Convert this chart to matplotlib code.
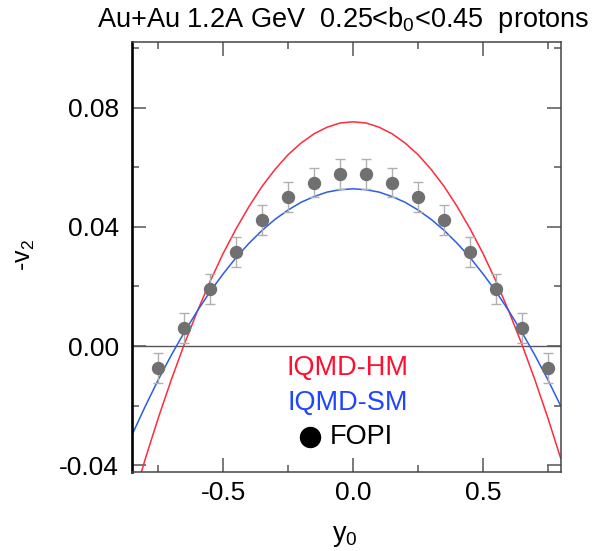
import matplotlib
matplotlib.use("Agg")
import matplotlib.pyplot as plt
from matplotlib.ticker import MultipleLocator, FormatStrFormatter

plt.rcParams['font.family'] = ['Liberation Sans', 'DejaVu Sans']
plt.rcParams['mathtext.fontset'] = 'custom'
plt.rcParams['mathtext.rm'] = 'Liberation Sans'
plt.rcParams['mathtext.it'] = 'Liberation Sans:italic'

# FOPI data points
fopi_y0 = [-0.75, -0.65, -0.55, -0.45, -0.35, -0.25, -0.15, -0.05,
           0.05, 0.15, 0.25, 0.35, 0.45, 0.55, 0.65, 0.75]
fopi_v2 = [-0.0075, 0.0060, 0.0192, 0.0315, 0.0424, 0.0500, 0.0549, 0.0577,
           0.0577, 0.0549, 0.0500, 0.0424, 0.0315, 0.0192, 0.0060, -0.0075]
fopi_err = [0.005, 0.005, 0.005, 0.005, 0.005, 0.005, 0.005, 0.005,
            0.005, 0.005, 0.005, 0.005, 0.005, 0.005, 0.005, 0.005]

# IQMD curves (every 0.05 in y0)
curve_y0 = [-0.85, -0.80, -0.75, -0.70, -0.65, -0.60, -0.55, -0.50, -0.45,
            -0.40, -0.35, -0.30, -0.25, -0.20, -0.15, -0.10, -0.05, 0.00,
            0.05, 0.10, 0.15, 0.20, 0.25, 0.30, 0.35, 0.40, 0.45, 0.50,
            0.55, 0.60, 0.65, 0.70, 0.75, 0.80]
hm_v2 = [-0.0523, -0.0377, -0.0240, -0.0112, 0.0007, 0.0117, 0.0219, 0.0312, 0.0395,
         0.0470, 0.0537, 0.0594, 0.0643, 0.0682, 0.0713, 0.0735, 0.0749, 0.0753,
         0.0749, 0.0735, 0.0713, 0.0682, 0.0643, 0.0594, 0.0537, 0.0470, 0.0395, 0.0312,
         0.0219, 0.0117, 0.0007, -0.0112, -0.0240, -0.0377]
sm_v2 = [-0.0295, -0.0201, -0.0112, -0.0030, 0.0047, 0.0118, 0.0184, 0.0243, 0.0298,
         0.0346, 0.0389, 0.0426, 0.0457, 0.0483, 0.0502, 0.0517, 0.0525, 0.0528,
         0.0525, 0.0517, 0.0502, 0.0483, 0.0457, 0.0426, 0.0389, 0.0346, 0.0298, 0.0243,
         0.0184, 0.0118, 0.0047, -0.0030, -0.0112, -0.0201]

fig = plt.figure(figsize=(6.0, 5.51), dpi=100)
ax = fig.add_axes([0.2195, 0.1439, 0.715, 0.7804])

ax.axhline(0.0, color='#555555', lw=1.0, zorder=1)
ax.plot(curve_y0, hm_v2, color='#ff2a3a', lw=1.1, zorder=2)
ax.plot(curve_y0, sm_v2, color='#2b5ce6', lw=1.1, zorder=2)
ax.errorbar(fopi_y0, fopi_v2, yerr=fopi_err, fmt='o', color='#707070',
            ms=8.6, ecolor='#b0b0b0', elinewidth=1.0, capsize=3.6,
            capthick=1.0, zorder=3)

ax.set_xlim(-0.853, 0.80)
ax.set_ylim(-0.0422, 0.1022)

ax.xaxis.set_major_locator(MultipleLocator(0.5))
ax.xaxis.set_minor_locator(MultipleLocator(0.25))
ax.xaxis.set_major_formatter(FormatStrFormatter('%.1f'))
ax.yaxis.set_major_locator(MultipleLocator(0.04))
ax.yaxis.set_minor_locator(MultipleLocator(0.02))
ax.yaxis.set_major_formatter(FormatStrFormatter('%.2f'))

ax.tick_params(which='both', direction='in', top=True, right=True,
               color='#555555', width=1.1, labelsize=19)
ax.tick_params(which='major', length=10)
ax.tick_params(which='minor', length=5)
ax.tick_params(axis='x', pad=7)
ax.tick_params(axis='y', pad=9)

for side in ['top', 'right', 'bottom']:
    ax.spines[side].set_color('#444444')
    ax.spines[side].set_linewidth(1.1)
ax.spines['left'].set_color('black')
ax.spines['left'].set_linewidth(1.9)

# legend written as text
ax.text(-0.02, -0.0075, 'IQMD-HM', color='#ff1030', fontsize=19.5,
        ha='center', va='center')
ax.text(-0.02, -0.0192, 'IQMD-SM', color='#1f45ff', fontsize=19.5,
        ha='center', va='center')
ax.plot([-0.165], [-0.0307], 'o', color='black', ms=14.4)
ax.text(-0.09, -0.0307, 'FOPI', color='black', fontsize=19.5,
        ha='left', va='center')

fig.text(343 / 600, 1 - 20 / 551,
         r'Au+Au 1.2A GeV  0.25<$\mathregular{b_0}$<0.45  protons',
         fontsize=19.5, ha='center', va='center')
fig.text(25 / 600, 1 - 255 / 551, r'-$\mathregular{v_2}$', fontsize=18,
         rotation=90, ha='center', va='center')
fig.text(345 / 600, 1 - 536 / 551, r'$\mathregular{y_0}$', fontsize=19.5,
         ha='center', va='center')

fig.savefig('out.png', dpi=100)
